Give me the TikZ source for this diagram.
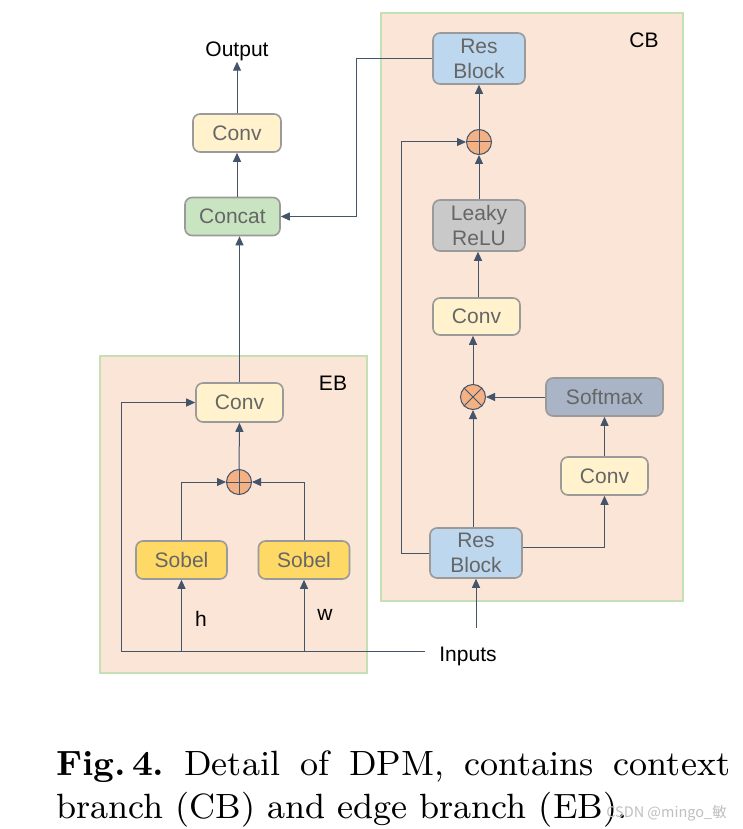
\documentclass[tikz,border=0pt]{standalone}
\usepackage{fontspec}
\usepackage{graphicx}
\usetikzlibrary{arrows.meta,calc}
\newfontfamily\dsans{Liberation Sans}
\newfontfamily\wmfont{Noto Sans CJK SC}
\definecolor{linec}{HTML}{44546A}
\definecolor{boxline}{HTML}{9A9A9A}
\definecolor{boxtext}{HTML}{666666}
\definecolor{panelfill}{HTML}{FBE5D7}
\definecolor{panelline}{HTML}{C5E0B4}
\definecolor{convfill}{HTML}{FFF2CC}
\definecolor{concatfill}{HTML}{C9E4C1}
\definecolor{resfill}{HTML}{BDD7EE}
\definecolor{leakyfill}{HTML}{C9C9C9}
\definecolor{softfill}{HTML}{A9B4C6}
\definecolor{sobelfill}{HTML}{FFD966}
\definecolor{opfill}{HTML}{F4B183}
\tikzset{
  panel/.style={fill=panelfill, draw=panelline, line width=1.5pt},
  blk/.style={draw=boxline, line width=1.6pt, rounded corners=7pt, inner sep=0pt,
     text=boxtext, font=\dsans\fontsize{21}{25}\selectfont, align=center},
  opnode/.style={circle, draw=linec, fill=opfill, line width=1pt, minimum size=25pt, inner sep=0pt},
  arr/.style={draw=linec, line width=1pt, -{Triangle[length=9pt,width=8pt]}},
  lbl/.style={font=\dsans\fontsize{21}{25}\selectfont, text=black, inner sep=1pt},
}
\begin{document}
\begin{tikzpicture}[x=1pt,y=-1pt]
\useasboundingbox (0,0) rectangle (742,829);
\fill[white] (0,0) rectangle (742,829);
% panels
\draw[panel] (381,13) rectangle (683,601);
\draw[panel] (100,356) rectangle (367,673);
% CB nodes
\node[blk, fill=resfill, minimum width=92pt, minimum height=51pt] (rbtop) at (479,58.5) {Res\\Block};
\node[opnode] (plus) at (479,142) {};
\node[blk, fill=leakyfill, minimum width=92pt, minimum height=51pt] (leaky) at (479,225.5) {Leaky\\ReLU};
\node[blk, fill=convfill, minimum width=87pt, minimum height=37pt] (cbconv) at (476.5,316.5) {Conv};
\node[opnode] (times) at (473,397) {};
\node[blk, fill=softfill, minimum width=117pt, minimum height=38pt] (soft) at (604.5,397) {Softmax};
\node[blk, fill=convfill, minimum width=87pt, minimum height=38pt] (conv2) at (604.5,476) {Conv};
\node[blk, fill=resfill, minimum width=92pt, minimum height=50pt] (rbbot) at (476,553) {Res\\Block};
\node[lbl] (cblab) at (644,40) {CB};
% left column
\node[lbl] (out) at (237,51) {Output};
\node[blk, fill=convfill, minimum width=88pt, minimum height=38pt] (conv1) at (237,133) {Conv};
\node[blk, fill=concatfill, minimum width=95pt, minimum height=38pt] (concat) at (232.5,216.5) {Concat};
% EB nodes
\node[blk, fill=convfill, minimum width=87pt, minimum height=39pt] (ebconv) at (239.5,402.5) {Conv};
\node[opnode] (plus2) at (239,482) {};
\node[blk, fill=sobelfill, minimum width=91pt, minimum height=38pt] (sobL) at (181.5,560) {Sobel};
\node[blk, fill=sobelfill, minimum width=91pt, minimum height=38pt] (sobR) at (304,560) {Sobel};
\node[lbl] (eblab) at (333,383) {EB};
\node[lbl] (hlab) at (201,619) {h};
\node[lbl] (wlab) at (325,615) {w};
\node[lbl] (inp) at (468,656) {Inputs};
\coordinate (cin) at (476,628);
\coordinate (eL) at (121,651);
\coordinate (eR) at (425,651);
% operator symbols
\draw[linec, line width=1pt] (plus.north) -- (plus.south) (plus.west) -- (plus.east);
\draw[linec, line width=1pt] (plus2.north) -- (plus2.south) (plus2.west) -- (plus2.east);
\draw[linec, line width=1pt] (times.north east) -- (times.south west) (times.north west) -- (times.south east);
% CB connectors
\draw[arr] (cin) -- (rbbot.south);
\draw[arr] (times |- rbbot.north) -- (times.south);
\draw[arr] ([yshift=6pt]rbbot.east) -| (conv2.south);
\draw[arr] (conv2.north) -- (soft.south);
\draw[arr] (soft.west) -- (times.east);
\draw[arr] (times.north) -- (times.north |- cbconv.south);
\draw[arr] ([xshift=1.5pt]cbconv.north) -- ([xshift=1.5pt]cbconv.north |- leaky.south);
\draw[arr] (leaky.north) -- (plus.south);
\draw[arr] (plus.north) -- (rbtop.south);
\draw[arr] (rbbot.west) -- ++(-28,0) |- (plus.west);
% to concat
\draw[arr] (rbtop.west) -- ++(-76,0) |- (concat.east);
\draw[arr] (conv1.south |- concat.north) -- (conv1.south);
\draw[arr] (conv1.north) -- (out.south);
\draw[arr] (ebconv.north) -- (ebconv.north |- concat.south);
% EB connectors
\draw[arr] (eR) -- (eL) |- (ebconv.west);
\draw[arr] (sobL.south |- eL) -- (sobL.south);
\draw[arr] (sobR.south |- eL) -- (sobR.south);
\draw[arr] (sobL.north) |- (plus2.west);
\draw[arr] (sobR.north) |- (plus2.east);
\draw[arr] (plus2.north) -- (ebconv.south);
% caption
\node[anchor=base west, inner sep=0pt] (cap1) at (56,775)
  {\scalebox{3.9}{\fontsize{9}{11}\selectfont\frenchspacing\makebox[172.8pt][s]{\textbf{Fig.\,4.} Detail of DPM, contains context}}};
\node[anchor=base west, inner sep=0pt] (cap2) at (56,818)
  {\scalebox{3.9}{\fontsize{9}{11}\selectfont\frenchspacing branch (CB) and edge branch (EB).}};
\node[anchor=base east, inner sep=0pt, text=gray!50, font=\wmfont\fontsize{14.5}{16}\selectfont] (wm) at (727,817) {CSDN @mingo\_敏};
\end{tikzpicture}
\end{document}
